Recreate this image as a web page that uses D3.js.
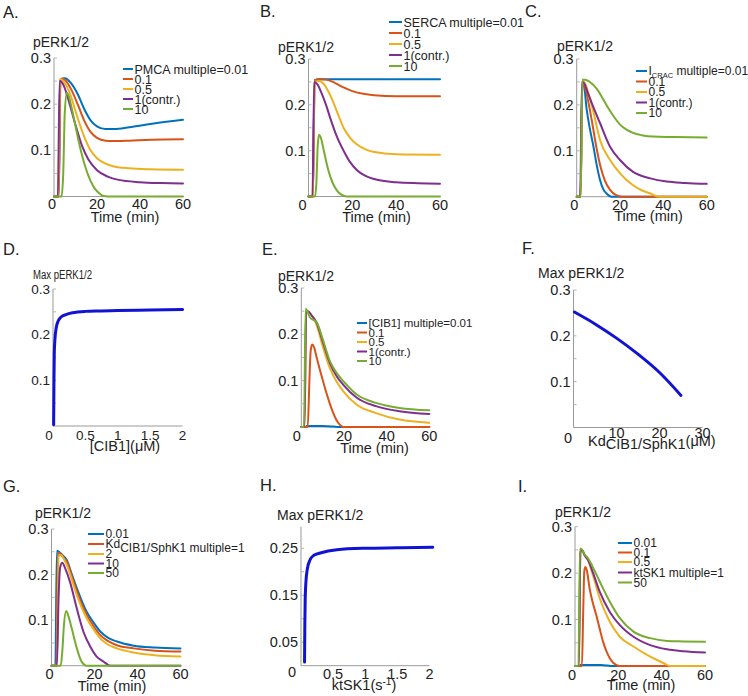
<!DOCTYPE html>
<html><head><meta charset="utf-8">
<script src="https://cdn.jsdelivr.net/npm/d3@7"></script>
<style>
body{margin:0;background:#fff;}
svg{display:block;font-family:"Liberation Sans",Arial,sans-serif;}
</style></head><body>
<svg id="c" width="748" height="696"></svg>
<script>
// ---------- colours ----------
const seriesColors = ["#0072BD","#D95319","#EDB120","#7E2F8E","#77AC30"];
const maxColor = "#1212d4";

// ---------- Panel A : PMCA ----------
const aLabels = ["PMCA multiple=0.01","0.1","0.5","1(contr.)","10"];
const aS1 = [[0,0],[2.2,0],[3,0.254],[5,0.256],[8,0.245],[11,0.222],[14,0.19],[17,0.165],[20,0.152],[24,0.146],[28,0.146],[35,0.15],[45,0.157],[60,0.166]];
const aS2 = [[0,0],[2.2,0],[3,0.254],[4,0.255],[6,0.248],[8,0.232],[11,0.2],[14,0.165],[17,0.14],[20,0.127],[24,0.121],[28,0.12],[35,0.121],[45,0.123],[60,0.124]];
const aS3 = [[0,0],[2,0],[2.8,0.255],[4,0.252],[6,0.238],[8,0.215],[11,0.17],[14,0.13],[17,0.1],[20,0.083],[24,0.071],[28,0.065],[35,0.061],[45,0.059],[60,0.058]];
const aS4 = [[0,0],[1.8,0],[2.6,0.25],[3.5,0.248],[5,0.235],[7,0.205],[10,0.155],[13,0.11],[16,0.08],[20,0.057],[25,0.043],[30,0.036],[40,0.031],[50,0.029],[60,0.028]];
const aS5 = [[0,0],[3.5,0],[4.3,0.05],[5,0.18],[6,0.225],[7,0.215],[9,0.175],[11,0.13],[13,0.09],[15,0.058],[17,0.034],[19,0.017],[21,0.007],[23,0.001],[25,0],[60,0]];

// ---------- Panel B : SERCA ----------
const bLabels = ["SERCA multiple=0.01","0.1","0.5","1(contr.)","10"];
const bS1 = [[0,0],[2,0],[2.8,0.254],[5,0.256],[20,0.256],[40,0.256],[60,0.256]];
const bS2 = [[0,0],[2,0],[2.8,0.254],[5,0.256],[8,0.255],[12,0.248],[16,0.238],[20,0.23],[25,0.224],[30,0.221],[40,0.219],[60,0.219]];
const bS3 = [[0,0],[2,0],[2.8,0.25],[5,0.252],[7,0.245],[10,0.22],[13,0.185],[16,0.15],[19,0.128],[22,0.114],[26,0.103],[30,0.097],[40,0.092],[60,0.091]];
const bS4 = [[0,0],[1.8,0],[2.6,0.25],[4,0.245],[6,0.225],[8,0.2],[10,0.17],[13,0.13],[16,0.1],[19,0.075],[22,0.058],[26,0.045],[30,0.038],[40,0.031],[50,0.029],[60,0.028]];
const bS5 = [[0,0],[3,0],[3.6,0.03],[4.2,0.11],[4.8,0.135],[5.5,0.13],[7,0.1],[9,0.058],[11,0.03],[13,0.013],[15,0.004],[17.5,0],[60,0]];

// ---------- Panel C : I_CRAC ----------
const cLabels = ["I_{CRAC} multiple=0.01","0.1","0.5","1(contr.)","10"];
const cS1 = [[0,0],[1.8,0],[2.6,0.245],[3.3,0.243],[4.6,0.19],[6,0.15],[7.7,0.11],[9.2,0.07],[10.8,0.036],[12.3,0.016],[13.8,0.007],[16,0],[60,0]];
const cS2 = [[0,0],[1.8,0],[2.6,0.245],[3.5,0.243],[5,0.215],[7,0.165],[9,0.11],[11,0.065],[13,0.035],[15.4,0.015],[18,0.004],[21,0],[60,0]];
const cS3 = [[0,0],[1.8,0],[2.6,0.25],[3.5,0.25],[5,0.232],[7.7,0.185],[10.8,0.123],[15.4,0.08],[20,0.051],[26,0.025],[30,0.014],[34,0.007],[38,0],[60,0]];
const cS4 = [[0,0],[1.6,0],[2.4,0.25],[3.3,0.248],[5,0.228],[7.7,0.195],[10.8,0.16],[15.4,0.109],[20,0.08],[26,0.054],[34,0.04],[41.5,0.033],[50,0.03],[60,0.028]];
const cS5 = [[0,0],[1.8,0],[2.6,0.255],[4,0.255],[6,0.25],[8,0.242],[10,0.23],[12.5,0.21],[15,0.19],[17.5,0.172],[20,0.157],[23,0.146],[26,0.139],[30,0.134],[35,0.131],[45,0.13],[60,0.129]];

// ---------- Panel D : Max pERK vs [CIB1] ----------
const dCIB1 = [0.01,0.015,0.02,0.03,0.05,0.08,0.12,0.2,0.3,0.5,0.75,1,1.5,2];
const dMax  = [0.003,0.1,0.16,0.19,0.215,0.23,0.238,0.244,0.248,0.251,0.252,0.253,0.254,0.255];

// ---------- Panel E : [CIB1] ----------
const eLabels = ["[CIB1] multiple=0.01","0.1","0.5","1(contr.)","10"];
const eS1 = [[0,0],[2,0],[2.5,0.002],[10,0.002],[15,0.001],[18,0],[60,0]];
const eS2 = [[0,0],[3,0],[3.8,0.1],[4.4,0.165],[5.1,0.178],[6,0.172],[7.2,0.15],[8.8,0.122],[10.3,0.097],[12,0.07],[13.4,0.05],[15,0.03],[16.6,0.014],[18,0.005],[19.7,0],[60,0]];
const eS3 = [[0,0],[1.5,0],[2.2,0.25],[3,0.25],[5,0.24],[7.2,0.22],[10,0.175],[13.4,0.127],[16.5,0.098],[19.7,0.077],[26,0.048],[35,0.03],[46,0.016],[60,0.009]];
const eS4 = [[0,0],[1.5,0],[2.3,0.248],[3,0.25],[5,0.24],[7.2,0.225],[10,0.185],[13.4,0.138],[16.5,0.11],[19.7,0.091],[26,0.063],[35,0.045],[46,0.034],[60,0.028]];
const eS5 = [[0,0],[1.3,0],[2,0.255],[2.6,0.252],[4,0.237],[7.2,0.226],[10,0.19],[13.4,0.142],[16.5,0.117],[19.7,0.099],[26,0.07],[35,0.052],[46,0.041],[60,0.036]];

// ---------- Panel F : Max pERK vs Kd ----------
const fKd  = [0.2,5,10,15,20,25];
const fMax = [0.252,0.226,0.195,0.16,0.12,0.07];

// ---------- Panel G : Kd CIB1/SphK1 ----------
const gLabels = ["0.01","Kd_{CIB1/SphK1 multiple=1}","2","10","50"];
const gS1 = [[0,0],[1.8,0],[2.5,0.252],[3.5,0.25],[5,0.243],[7.1,0.232],[9.5,0.2],[11.8,0.17],[14,0.143],[16.4,0.118],[19.5,0.095],[22.7,0.075],[26,0.062],[30.4,0.053],[38.2,0.044],[48,0.04],[60,0.038]];
const gS2 = [[0,0],[2.3,0],[3,0.248],[3.8,0.247],[5,0.24],[7.1,0.228],[9.5,0.195],[11.8,0.163],[14,0.135],[16.4,0.111],[19.5,0.087],[22.7,0.067],[26,0.055],[30.4,0.045],[38.2,0.038],[48,0.033],[60,0.031]];
const gS3 = [[0,0],[2.5,0],[3.3,0.24],[4.5,0.243],[6,0.232],[7.1,0.222],[9.5,0.188],[11.8,0.155],[14,0.128],[16.4,0.104],[19.5,0.08],[22.7,0.06],[26,0.047],[30.4,0.038],[38.2,0.029],[48,0.023],[60,0.02]];
const gS4 = [[0,0],[2.5,0],[3.3,0.15],[4,0.215],[5,0.226],[6.5,0.212],[8.6,0.184],[11.8,0.125],[14.9,0.074],[18,0.042],[21,0.02],[24.2,0.009],[27.3,0],[60,0]];
const gS5 = [[0,0],[4.3,0],[5,0.03],[5.8,0.09],[6.8,0.12],[7.8,0.11],[9.4,0.082],[11.8,0.038],[13,0.02],[14,0.009],[16.4,0],[60,0]];

// ---------- Panel H : Max pERK vs ktSK1 ----------
const hK   = [0.055,0.06,0.065,0.075,0.1,0.14,0.2,0.3,0.56,1,1.5,2.05];
const hMax = [0.008,0.09,0.14,0.175,0.207,0.225,0.235,0.24,0.247,0.25,0.251,0.252];

// ---------- Panel I : ktSK1 ----------
const iLabels = ["0.01","0.1","0.5","ktSK1 multiple=1","50"];
const iS1 = [[0,0],[2,0],[2.5,0.002],[12,0.002],[15,0.001],[17,0],[60,0]];
const iS2 = [[0,0],[3.2,0],[3.8,0.12],[4.3,0.205],[4.8,0.213],[5.5,0.205],[6.7,0.168],[8,0.14],[9.8,0.11],[11.4,0.08],[12.9,0.053],[14.5,0.032],[16,0.017],[17.6,0.007],[19.2,0.002],[20.5,0],[60,0]];
const iS3 = [[0,0],[1.8,0],[2.5,0.25],[3.2,0.25],[4.5,0.238],[6,0.228],[8,0.2],[11.4,0.146],[16,0.096],[20.7,0.063],[27,0.042],[34.7,0.02],[41,0.006],[44,0],[60,0]];
const iS4 = [[0,0],[1.8,0],[2.5,0.245],[3.2,0.25],[4.5,0.238],[6,0.228],[8,0.205],[11.4,0.16],[16,0.117],[20.7,0.088],[27,0.063],[34.7,0.045],[42.5,0.036],[50,0.032],[60,0.029]];
const iS5 = [[0,0],[1.6,0],[2.3,0.253],[3,0.252],[4.5,0.24],[6,0.232],[8,0.215],[11.4,0.182],[16,0.139],[20.7,0.103],[27,0.074],[34.7,0.06],[42.5,0.054],[50,0.053],[60,0.052]];

// ---------- tick labels ----------
const timeTicks = [0,20,40,60];
const pTicks = [0.1,0.2,0.3];
const pMinor = [0.05,0.15,0.25];
const dTicks = [0,0.5,1,1.5,2];
const fTicks = [10,20,30];
const hXTicks = [0.5,1,1.5,2];
const hYTicks = [0.05,0.15,0.25];
const hYMinor = [0.1,0.2];

// ---------- drawing ----------
const svg = d3.select("#c");
const TXT = "#222", AX = "#9a9a9a";

function rich(t, str, o) {
  const parts = str.split(/(_\{[^}]*\}|\^\{[^}]*\})/).filter(s => s.length);
  let cur = 0;
  parts.forEach(p => {
    let shift = 0, size = o.fs, s = p;
    if (p.startsWith("_{")) { shift = o.subShift || 3; size = o.subFs || o.fs * 0.7; s = p.slice(2, -1); }
    else if (p.startsWith("^{")) { shift = -(o.supShift || 5); size = o.supFs || o.fs * 0.7; s = p.slice(2, -1); }
    const ts = t.append("tspan").attr("font-size", size).text(s);
    if (shift - cur !== 0) ts.attr("dy", shift - cur);
    cur = shift;
  });
}

function panel(cfg) {
  const g = svg.append("g");
  const x = d3.scaleLinear().domain(cfg.xDomain).range([cfg.x0, cfg.x1]);
  const y = d3.scaleLinear().domain(cfg.yDomain).range([cfg.y0, cfg.y1]);
  const tf = cfg.tickFs || 14.5;

  g.append("line").attr("x1", cfg.x0).attr("x2", cfg.x0).attr("y1", cfg.y0).attr("y2", y(cfg.yTop !== undefined ? cfg.yTop : cfg.yDomain[1]))
    .attr("stroke", AX).attr("stroke-width", 1);
  g.append("line").attr("x1", cfg.x0).attr("x2", cfg.x1).attr("y1", cfg.y0).attr("y2", cfg.y0)
    .attr("stroke", AX).attr("stroke-width", 1);
  (cfg.yTicks.concat(cfg.yMinor || [])).forEach(v => {
    g.append("line").attr("x1", cfg.x0).attr("x2", cfg.x0 + 3).attr("y1", y(v)).attr("y2", y(v)).attr("stroke", "#b5b5b5").attr("stroke-width", 1);
  });
  cfg.yTicks.forEach(v => {
    g.append("text").attr("x", cfg.x0 - 3).attr("y", y(v) + tf * 0.35).attr("text-anchor", "end")
      .attr("font-size", tf).attr("fill", TXT).text(String(v));
  });
  cfg.xTicks.forEach(v => {
    const dx = v === 0 ? (cfg.zeroDx || 0) : 0;
    g.append("text").attr("x", x(v) + dx).attr("y", cfg.y0 + (cfg.tickDy || 13.5))
      .attr("text-anchor", "middle").attr("font-size", tf).attr("fill", TXT).text(String(v));
  });
  if (cfg.cornerZero) {
    g.append("text").attr("x", cfg.cornerZero[0]).attr("y", cfg.cornerZero[1]).attr("text-anchor", "middle")
      .attr("font-size", tf).attr("fill", TXT).text("0");
  }
  g.append("text").attr("x", cfg.letterPos[0]).attr("y", cfg.letterPos[1]).attr("font-size", 16.5).attr("fill", TXT).text(cfg.letter);
  const yt = g.append("text").attr("x", cfg.yTitlePos[0]).attr("y", cfg.yTitlePos[1]).attr("font-size", cfg.yTitleFs || 14)
    .attr("fill", TXT).text(cfg.yTitle);
  if (cfg.yTitleLen) yt.attr("textLength", cfg.yTitleLen).attr("lengthAdjust", "spacingAndGlyphs");
  const xf = cfg.xTitleFs || 14.5;
  const xt = g.append("text").attr("x", cfg.xTitlePos[0]).attr("y", cfg.xTitlePos[1])
    .attr("text-anchor", cfg.xTitleAnchor || "middle").attr("fill", TXT).attr("font-size", xf);
  rich(xt, cfg.xTitle, Object.assign({ fs: xf }, cfg.xTitleRich || {}));

  const line = d3.line().x(d => x(d[0])).y(d => y(d[1])).curve(d3.curveMonotoneX);
  cfg.series.forEach((s, i) => {
    g.append("path").attr("d", line(s)).attr("fill", "none")
      .attr("stroke", cfg.colors ? cfg.colors[i] : maxColor)
      .attr("stroke-width", cfg.lw || 2).attr("stroke-linejoin", "round").attr("stroke-linecap", "round");
  });

  if (cfg.labels) {
    const lf = cfg.legendFs || 12;
    cfg.labels.forEach((lab, i) => {
      const ly = cfg.legendRows[i];
      g.append("line").attr("x1", cfg.legendX[0]).attr("x2", cfg.legendX[1]).attr("y1", ly).attr("y2", ly)
        .attr("stroke", cfg.colors[i]).attr("stroke-width", 2);
      const t = g.append("text").attr("x", cfg.legendX[1] + 1.5).attr("y", ly + lf * 0.36)
        .attr("font-size", lf).attr("fill", TXT);
      rich(t, lab, Object.assign({ fs: lf }, cfg.legendRich || {}));
    });
  }
}

const tDom = [0, 60], pDom = [0, 0.3];

panel({ letter: "A.", letterPos: [3, 18], x0: 54, x1: 183, y0: 196.5, y1: 58, xDomain: tDom, yDomain: pDom,
  xTicks: timeTicks, yTicks: pTicks, yMinor: pMinor, zeroDx: -2, tickDy: 12.5,
  yTitle: "pERK1/2", yTitlePos: [33, 46.5], xTitle: "Time (min)", xTitlePos: [125, 221.5],
  series: [aS1, aS2, aS3, aS4, aS5], colors: seriesColors, labels: aLabels,
  legendX: [123, 133], legendRows: [69, 79, 89, 99, 109], legendFs: 12.5 });

panel({ letter: "B.", letterPos: [260, 17], x0: 308.5, x1: 440, y0: 196.5, y1: 59, xDomain: tDom, yDomain: pDom,
  xTicks: timeTicks, yTicks: pTicks, yMinor: pMinor, zeroDx: -6,
  yTitle: "pERK1/2", yTitlePos: [278, 51.5], xTitle: "Time (min)", xTitlePos: [376.5, 221.5],
  series: [bS1, bS2, bS3, bS4, bS5], colors: seriesColors, labels: bLabels,
  legendX: [389, 402], legendRows: [22, 33, 44, 55, 66], legendFs: 12.5 });

panel({ letter: "C.", letterPos: [525, 17], x0: 576.7, x1: 706.7, y0: 196.7, y1: 59, xDomain: tDom, yDomain: pDom,
  xTicks: timeTicks, yTicks: pTicks, yMinor: pMinor, zeroDx: -2.5,
  yTitle: "pERK1/2", yTitlePos: [557, 50.7], xTitle: "Time (min)", xTitlePos: [648.5, 220.5],
  series: [cS1, cS2, cS3, cS4, cS5], colors: seriesColors, labels: cLabels,
  legendX: [636, 647], legendRows: [71, 81.5, 92, 102.5, 113], legendFs: 12,
  legendRich: { subFs: 7.5, subShift: 3 } });

panel({ letter: "D.", letterPos: [3, 255], x0: 53, x1: 182.5, y0: 426, y1: 289, xDomain: [0, 2], yDomain: pDom,
  xTicks: dTicks, yTicks: pTicks, yMinor: pMinor, zeroDx: -4, tickFs: 13.5,
  yTitle: "Max pERK1/2", yTitleFs: 12.5, yTitleLen: 59, yTitlePos: [33, 279], xTitle: "[CIB1](μM)", xTitlePos: [125, 451],
  series: [dCIB1.map((v, i) => [v, dMax[i]])], lw: 3 });

panel({ letter: "E.", letterPos: [262, 255], x0: 301.3, x1: 429.3, y0: 427, y1: 288, xDomain: tDom, yDomain: pDom,
  xTicks: timeTicks, yTicks: pTicks, yMinor: pMinor, zeroDx: -4.5,
  yTitle: "pERK1/2", yTitlePos: [278, 281], xTitle: "Time (min)", xTitlePos: [374.5, 452.5],
  series: [eS1, eS2, eS3, eS4, eS5], colors: seriesColors, labels: eLabels,
  legendX: [357, 367], legendRows: [323, 332.5, 342, 351.5, 361], legendFs: 11.5 });

panel({ letter: "F.", letterPos: [522, 254], x0: 573.5, x1: 702.5, y0: 427.5, y1: 290, xDomain: [0, 30], yDomain: pDom,
  xTicks: fTicks, yTicks: pTicks, yMinor: pMinor, cornerZero: [568, 443], tickDy: 10.5,
  yTitle: "Max pERK1/2", yTitlePos: [538, 278], xTitle: "Kd_{CIB1/SphK1}(μM)", xTitlePos: [588, 446], xTitleAnchor: "start",
  xTitleFs: 14.5, xTitleRich: { subFs: 14.5, subShift: 3 },
  series: [fKd.map((v, i) => [v, fMax[i]])], lw: 3 });

panel({ letter: "G.", letterPos: [3, 491.5], x0: 51.5, x1: 180.5, y0: 665.7, y1: 529, xDomain: tDom, yDomain: pDom,
  xTicks: timeTicks, yTicks: pTicks, yMinor: pMinor, zeroDx: -2, tickDy: 13.5,
  yTitle: "pERK1/2", yTitlePos: [35, 518], xTitle: "Time (min)", xTitlePos: [112, 690.5],
  series: [gS1, gS2, gS3, gS4, gS5], colors: seriesColors, labels: gLabels,
  legendX: [88, 104], legendRows: [534, 544, 554, 563.5, 573], legendFs: 12,
  legendRich: { subFs: 12, subShift: 4 } });

panel({ letter: "H.", letterPos: [260, 491], x0: 301, x1: 429.5, y0: 665.7, y1: 524.8, xDomain: [0, 2], yDomain: pDom, yTop: 0.296,
  xTicks: hXTicks, yTicks: hYTicks, yMinor: hYMinor, cornerZero: [292, 677], tickDy: 13.5,
  yTitle: "Max pERK1/2", yTitlePos: [277, 520], xTitle: "ktSK1(s^{-1})", xTitlePos: [364, 690],
  xTitleRich: { supFs: 10, supShift: 5 },
  series: [hK.map((v, i) => [v, hMax[i]])], lw: 3 });

panel({ letter: "I.", letterPos: [518, 492], x0: 575, x1: 705, y0: 666, y1: 526.7, xDomain: tDom, yDomain: pDom,
  xTicks: timeTicks, yTicks: pTicks, yMinor: pMinor, zeroDx: -3, tickDy: 13.5,
  yTitle: "pERK1/2", yTitlePos: [555, 517], xTitle: "Time (min)", xTitlePos: [641, 690],
  series: [iS1, iS2, iS3, iS4, iS5], colors: seriesColors, labels: iLabels,
  legendX: [618, 632], legendRows: [543, 552.5, 562, 572.5, 582.5], legendFs: 12 });
</script>
</body></html>
